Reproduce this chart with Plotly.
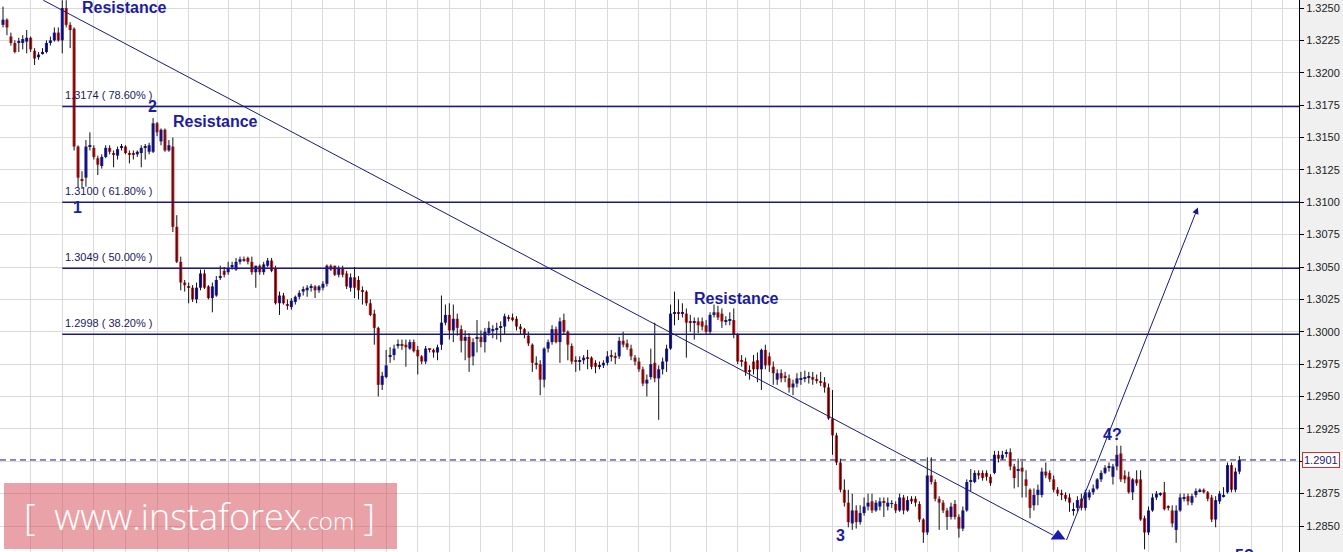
import plotly.graph_objects as go

# ---------------- data ----------------
opens = [1.3237,1.3241,1.3228,1.3223,1.3223,1.3223,1.3224,1.3227,1.3217,1.3212,
 1.3215,1.3216,1.3223,1.3225,1.3231,1.3225,1.3250,1.3237,1.3234,1.3143,
 1.3118,1.3119,1.3143,1.3142,1.3134,1.3128,1.3135,1.3142,1.3138,1.3136,
 1.3142,1.3143,1.3138,1.3138,1.3137,1.3138,1.3142,1.3139,1.3139,1.3161,
 1.3147,1.3156,1.3140,1.3143,1.3081,1.3054,1.3038,1.3035,1.3034,1.3025,
 1.3034,1.3045,1.3035,1.3026,1.3028,1.3042,1.3047,1.3046,1.3050,1.3048,
 1.3054,1.3056,1.3057,1.3054,1.3046,1.3051,1.3046,1.3051,1.3055,1.3049,
 1.3022,1.3028,1.3021,1.3019,1.3023,1.3027,1.3031,1.3032,1.3034,1.3035,
 1.3032,1.3034,1.3037,1.3051,1.3051,1.3044,1.3049,1.3045,1.3034,1.3042,
 1.3040,1.3032,1.3031,1.3022,1.3014,1.3003,1.2959,1.2965,1.2981,1.2982,
 1.2989,1.2990,1.2990,1.2987,1.2992,1.2986,1.2981,1.2977,1.2987,1.2986,
 1.2984,1.2990,1.3007,1.3013,1.3001,1.3010,1.3002,1.2993,1.2996,1.2981,
 1.2995,1.2996,1.2992,1.2999,1.3001,1.3002,1.3003,1.3004,1.3011,1.3011,
 1.3010,1.3004,1.3002,1.2997,1.2990,1.2976,1.2975,1.2963,1.2987,1.2992,
 1.3002,1.2992,1.3009,1.3000,1.2989,1.2978,1.2977,1.2978,1.2980,1.2980,
 1.2976,1.2973,1.2974,1.2976,1.2982,1.2981,1.2981,1.2993,1.2991,1.2987,
 1.2980,1.2977,1.2971,1.2960,1.2965,1.2976,1.2964,1.2971,1.2977,1.2987,
 1.3014,1.3015,1.3014,1.3014,1.3008,1.3007,1.3008,1.3008,1.3005,1.3000,
 1.3013,1.3015,1.3014,1.3008,1.3009,1.3009,1.2998,1.2978,1.2977,1.2970,
 1.2977,1.2978,1.2971,1.2986,1.2981,1.2973,1.2963,1.2968,1.2966,1.2964,
 1.2957,1.2960,1.2963,1.2964,1.2965,1.2965,1.2963,1.2962,1.2961,1.2957,
 1.2933,1.2920,1.2899,1.2878,1.2868,1.2852,1.2862,1.2853,1.2860,1.2865,
 1.2869,1.2862,1.2865,1.2869,1.2865,1.2867,1.2867,1.2862,1.2872,1.2862,
 1.2871,1.2871,1.2867,1.2855,1.2845,1.2889,1.2884,1.2871,1.2868,1.2862,
 1.2857,1.2867,1.2857,1.2848,1.2862,1.2884,1.2884,1.2891,1.2891,1.2891,
 1.2888,1.2891,1.2905,1.2902,1.2906,1.2907,1.2896,1.2893,1.2895,1.2886,
 1.2878,1.2866,1.2874,1.2874,1.2892,1.2891,1.2886,1.2878,1.2875,1.2874,
 1.2872,1.2862,1.2864,1.2871,1.2864,1.2872,1.2876,1.2879,1.2886,1.2891,
 1.2895,1.2888,1.2896,1.2906,1.2889,1.2888,1.2876,1.2886,1.2886,1.2856,
 1.2845,1.2862,1.2872,1.2874,1.2876,1.2865,1.2862,1.2847,1.2862,1.2871,
 1.2873,1.2868,1.2874,1.2877,1.2878,1.2876,1.2872,1.2855,1.2869,1.2873,
 1.2876,1.2897,1.2878,1.2892]

highs = [1.3251,1.3242,1.3231,1.3225,1.3227,1.3229,1.3233,1.3228,1.3219,1.3216,
 1.3219,1.3225,1.3228,1.3235,1.3235,1.3256,1.3256,1.3239,1.3235,1.3144,
 1.3124,1.3148,1.3154,1.3144,1.3136,1.3137,1.3144,1.3144,1.3140,1.3143,
 1.3145,1.3144,1.3140,1.3140,1.3140,1.3144,1.3145,1.3146,1.3165,1.3162,
 1.3157,1.3157,1.3148,1.3150,1.3090,1.3058,1.3040,1.3038,1.3036,1.3038,
 1.3048,1.3048,1.3036,1.3038,1.3043,1.3051,1.3050,1.3054,1.3054,1.3057,
 1.3058,1.3058,1.3058,1.3058,1.3051,1.3052,1.3054,1.3057,1.3057,1.3051,
 1.3031,1.3030,1.3025,1.3026,1.3028,1.3032,1.3035,1.3036,1.3037,1.3036,
 1.3036,1.3039,1.3052,1.3052,1.3051,1.3051,1.3051,1.3047,1.3045,1.3050,
 1.3043,1.3035,1.3032,1.3025,1.3017,1.3004,1.2969,1.2986,1.2988,1.2990,
 1.2994,1.2994,1.2994,1.2994,1.2994,1.2989,1.2982,1.2989,1.2987,1.2987,
 1.2990,1.3028,1.3021,1.3022,1.3021,1.3014,1.3005,1.3001,1.2999,1.2995,
 1.3009,1.3001,1.3003,1.3008,1.3005,1.3007,1.3008,1.3014,1.3013,1.3014,
 1.3012,1.3006,1.3003,1.3000,1.2991,1.2981,1.2978,1.2988,1.2994,1.3005,
 1.3004,1.3011,1.3014,1.3001,1.2991,1.2981,1.2981,1.2982,1.2986,1.2981,
 1.2978,1.2977,1.2978,1.2985,1.2986,1.2984,1.2996,1.3000,1.2994,1.2990,
 1.2982,1.2980,1.2973,1.2967,1.2987,1.3007,1.2974,1.2980,1.2990,1.3021,
 1.3031,1.3025,1.3022,1.3018,1.3013,1.3011,1.3011,1.3011,1.3009,1.3015,
 1.3021,1.3020,1.3018,1.3012,1.3015,1.3018,1.2999,1.2982,1.2980,1.2974,
 1.2982,1.2984,1.2987,1.2990,1.2984,1.2977,1.2971,1.2971,1.2969,1.2967,
 1.2963,1.2968,1.2969,1.2970,1.2969,1.2969,1.2967,1.2969,1.2965,1.2960,
 1.2955,1.2922,1.2902,1.2886,1.2878,1.2875,1.2866,1.2866,1.2872,1.2875,
 1.2875,1.2870,1.2872,1.2872,1.2872,1.2870,1.2869,1.2875,1.2874,1.2873,
 1.2873,1.2873,1.2869,1.2856,1.2903,1.2903,1.2886,1.2873,1.2870,1.2864,
 1.2868,1.2870,1.2859,1.2865,1.2886,1.2894,1.2893,1.2893,1.2893,1.2893,
 1.2890,1.2908,1.2908,1.2908,1.2909,1.2910,1.2898,1.2902,1.2900,1.2893,
 1.2879,1.2879,1.2882,1.2895,1.2899,1.2893,1.2889,1.2880,1.2878,1.2876,
 1.2875,1.2868,1.2873,1.2875,1.2878,1.2878,1.2882,1.2887,1.2893,1.2897,
 1.2899,1.2898,1.2912,1.2912,1.2893,1.2892,1.2887,1.2893,1.2893,1.2858,
 1.2865,1.2875,1.2877,1.2876,1.2884,1.2866,1.2866,1.2866,1.2875,1.2875,
 1.2875,1.2875,1.2879,1.2879,1.2879,1.2877,1.2874,1.2873,1.2877,1.2880,
 1.2899,1.2899,1.2895,1.2904]

lows = [1.3235,1.3229,1.3221,1.3215,1.3216,1.3218,1.3215,1.3216,1.3206,1.3210,
 1.3214,1.3215,1.3221,1.3224,1.3224,1.3215,1.3235,1.3219,1.3140,1.3111,
 1.3111,1.3112,1.3140,1.3133,1.3121,1.3126,1.3134,1.3137,1.3127,1.3133,
 1.3140,1.3137,1.3130,1.3133,1.3135,1.3127,1.3133,1.3137,1.3138,1.3151,
 1.3144,1.3139,1.3139,1.3077,1.3053,1.3032,1.3031,1.3022,1.3023,1.3022,
 1.3032,1.3033,1.3025,1.3015,1.3027,1.3040,1.3042,1.3044,1.3048,1.3047,
 1.3052,1.3054,1.3052,1.3044,1.3034,1.3044,1.3044,1.3050,1.3046,1.3021,
 1.3013,1.3021,1.3017,1.3017,1.3021,1.3025,1.3028,1.3027,1.3031,1.3026,
 1.3030,1.3032,1.3035,1.3047,1.3043,1.3042,1.3042,1.3033,1.3031,1.3026,
 1.3025,1.3021,1.3020,1.3012,1.2990,1.2950,1.2955,1.2964,1.2976,1.2978,
 1.2987,1.2986,1.2973,1.2986,1.2984,1.2967,1.2975,1.2975,1.2984,1.2980,
 1.2978,1.2986,1.3005,1.2994,1.2992,1.2997,1.2984,1.2978,1.2969,1.2974,
 1.2984,1.2988,1.2984,1.2997,1.2995,1.2994,1.2992,1.2998,1.3008,1.3008,
 1.3001,1.2998,1.2995,1.2989,1.2969,1.2971,1.2951,1.2957,1.2984,1.2990,
 1.2991,1.2976,1.2998,1.2978,1.2975,1.2969,1.2970,1.2975,1.2971,1.2971,
 1.2968,1.2971,1.2972,1.2974,1.2977,1.2975,1.2979,1.2988,1.2986,1.2978,
 1.2974,1.2969,1.2958,1.2950,1.2963,1.2961,1.2932,1.2967,1.2969,1.2986,
 1.3005,1.3009,1.3011,1.2980,1.3000,1.2994,1.2999,1.3001,1.2998,1.2998,
 1.3011,1.3009,1.3003,1.3005,1.3005,1.2995,1.2975,1.2973,1.2966,1.2963,
 1.2967,1.2961,1.2955,1.2971,1.2969,1.2959,1.2959,1.2961,1.2961,1.2953,
 1.2951,1.2957,1.2959,1.2961,1.2960,1.2959,1.2960,1.2958,1.2953,1.2932,
 1.2905,1.2897,1.2876,1.2865,1.2849,1.2847,1.2848,1.2851,1.2858,1.2862,
 1.2860,1.2861,1.2862,1.2857,1.2862,1.2864,1.2860,1.2861,1.2859,1.2861,
 1.2867,1.2865,1.2853,1.2837,1.2843,1.2882,1.2869,1.2847,1.2860,1.2847,
 1.2855,1.2855,1.2841,1.2846,1.2861,1.2877,1.2883,1.2886,1.2885,1.2885,
 1.2881,1.2890,1.2899,1.2901,1.2903,1.2893,1.2879,1.2880,1.2872,1.2872,
 1.2856,1.2862,1.2866,1.2872,1.2887,1.2884,1.2876,1.2873,1.2870,1.2869,
 1.2861,1.2858,1.2861,1.2862,1.2862,1.2870,1.2874,1.2878,1.2884,1.2890,
 1.2892,1.2882,1.2893,1.2884,1.2883,1.2875,1.2870,1.2881,1.2854,1.2832,
 1.2843,1.2861,1.2870,1.2873,1.2862,1.2862,1.2849,1.2837,1.2861,1.2869,
 1.2866,1.2866,1.2872,1.2876,1.2875,1.2869,1.2853,1.2849,1.2867,1.2872,
 1.2875,1.2876,1.2876,1.2890]

closes = [1.3241,1.3235,1.3223,1.3216,1.3224,1.3226,1.3227,1.3218,1.3211,1.3214,
 1.3216,1.3223,1.3225,1.3231,1.3225,1.3250,1.3237,1.3233,1.3143,1.3119,
 1.3117,1.3143,1.3144,1.3135,1.3129,1.3135,1.3142,1.3139,1.3137,1.3141,
 1.3143,1.3138,1.3137,1.3137,1.3139,1.3142,1.3143,1.3144,1.3161,1.3154,
 1.3156,1.3140,1.3144,1.3081,1.3054,1.3038,1.3036,1.3034,1.3025,1.3034,
 1.3045,1.3034,1.3026,1.3035,1.3040,1.3043,1.3044,1.3049,1.3051,1.3054,
 1.3056,1.3055,1.3054,1.3046,1.3051,1.3046,1.3052,1.3055,1.3047,1.3022,
 1.3028,1.3022,1.3020,1.3024,1.3027,1.3030,1.3033,1.3034,1.3035,1.3032,
 1.3035,1.3037,1.3051,1.3048,1.3044,1.3049,1.3044,1.3035,1.3042,1.3034,
 1.3032,1.3031,1.3022,1.3013,1.3003,1.2959,1.2966,1.2974,1.2982,1.2987,
 1.2990,1.2989,1.2988,1.2992,1.2985,1.2981,1.2977,1.2987,1.2986,1.2984,
 1.2988,1.3007,1.3013,1.3001,1.3010,1.3003,1.2993,1.2996,1.2980,1.2992,
 1.2996,1.2992,1.3000,1.3003,1.3002,1.3003,1.3004,1.3012,1.3010,1.3009,
 1.3004,1.3002,1.2998,1.2991,1.2976,1.2975,1.2963,1.2987,1.2992,1.3002,
 1.2992,1.3008,1.3000,1.2990,1.2977,1.2977,1.2978,1.2980,1.2979,1.2973,
 1.2973,1.2974,1.2976,1.2981,1.2981,1.2980,1.2993,1.2990,1.2988,1.2981,
 1.2977,1.2971,1.2960,1.2963,1.2975,1.2964,1.2971,1.2977,1.2987,1.3014,
 1.3015,1.3014,1.3015,1.3007,1.3007,1.3008,1.3005,1.3004,1.3000,1.3013,
 1.3015,1.3011,1.3008,1.3009,1.3009,1.2998,1.2977,1.2977,1.2969,1.2969,
 1.2971,1.2971,1.2986,1.2974,1.2974,1.2968,1.2968,1.2964,1.2965,1.2957,
 1.2960,1.2964,1.2964,1.2965,1.2965,1.2963,1.2962,1.2961,1.2957,1.2933,
 1.2920,1.2899,1.2878,1.2868,1.2853,1.2862,1.2853,1.2860,1.2865,1.2868,
 1.2862,1.2868,1.2869,1.2868,1.2868,1.2867,1.2862,1.2872,1.2862,1.2870,
 1.2869,1.2868,1.2855,1.2845,1.2889,1.2884,1.2871,1.2868,1.2862,1.2857,
 1.2865,1.2857,1.2848,1.2862,1.2884,1.2885,1.2891,1.2889,1.2887,1.2888,
 1.2883,1.2905,1.2902,1.2905,1.2907,1.2896,1.2887,1.2893,1.2892,1.2881,
 1.2864,1.2874,1.2878,1.2892,1.2889,1.2886,1.2878,1.2875,1.2874,1.2871,
 1.2868,1.2863,1.2870,1.2864,1.2876,1.2876,1.2879,1.2886,1.2891,1.2895,
 1.2896,1.2896,1.2905,1.2886,1.2886,1.2876,1.2886,1.2883,1.2855,1.2845,
 1.2862,1.2872,1.2875,1.2875,1.2863,1.2864,1.2852,1.2862,1.2872,1.2872,
 1.2869,1.2873,1.2877,1.2878,1.2876,1.2871,1.2855,1.2870,1.2875,1.2874,
 1.2897,1.2878,1.2892,1.2901]

y_ticks = [1.2850, 1.2875, 1.2900, 1.2925, 1.2950, 1.2975, 1.3000, 1.3025, 1.3050,
           1.3075, 1.3100, 1.3125, 1.3150, 1.3175, 1.3200, 1.3225, 1.3250]
y_tick_labels = ["%.4f" % v for v in y_ticks]

fib_levels = [1.3174, 1.3100, 1.3049, 1.2998]
fib_labels = ["1.3174 ( 78.60% )", "1.3100 ( 61.80% )", "1.3049 ( 50.00% )", "1.2998 ( 38.20% )"]
fib_anchor_bar = 15

last_price = 1.2901
last_price_label = "1.2901"

# trend line (bar index, price) and projection arrow
trend_x = [10.2, 265.8]
trend_y = [1.3256, 1.2843]
proj_from = (269.1, 1.2838)
proj_to = (302.5, 1.3096)
marker_point = (267.1, 1.2842)

wave_texts = ["Resistance", "2", "Resistance", "1", "Resistance", "3", "4?"]
wave_x = [30.8, 37.9, 53.7, 18.9, 185.6, 211.9, 281.0]
wave_y = [1.32502, 1.3174, 1.3162, 1.3096, 1.3026, 1.2843, 1.2921]
wave5_text = "5?"
wave5_x = 314.2

# ---------------- layout constants ----------------
X_MIN, X_MAX = -0.76, 328.1
Y_MIN, Y_MAX = 1.282992, 1.325618
grid_x = [7, 15, 23, 31, 39, 47, 57, 65, 73, 81, 89, 97, 105, 113, 121, 129, 137, 145,
          153, 161, 169, 178, 186, 194, 202, 210, 218, 226, 234, 242, 250, 258, 266, 274,
          282, 290, 298, 308, 316, 324]

BLUE = "#1c1cc6"
RED = "#d61e1e"
NAVY = "#1a1a7e"
TEXT_BLUE = "#1c1c9e"
GRID = "#dadada"

n = len(closes)
idx = list(range(n))
body_base = [min(o, c) for o, c in zip(opens, closes)]
body_h = [max(abs(c - o), 0.00007) for o, c in zip(opens, closes)]
colors = [BLUE if c >= o else RED for o, c in zip(opens, closes)]

wick_x, wick_y = [], []
for i in idx:
    wick_x += [i, i, None]
    wick_y += [lows[i], highs[i], None]

fig = go.Figure()

fig.add_trace(go.Scatter(x=wick_x, y=wick_y, mode="lines",
                         line=dict(color="#111111", width=1),
                         hoverinfo="skip", showlegend=False))
fig.add_trace(go.Bar(x=idx, y=body_h, base=body_base, width=0.78,
                     marker=dict(color=colors, line=dict(width=0)),
                     hoverinfo="skip", showlegend=False))

# trend line
fig.add_trace(go.Scatter(x=trend_x, y=trend_y, mode="lines",
                         line=dict(color=NAVY, width=1), hoverinfo="skip", showlegend=False))
# triangle marker at end of trend line
fig.add_trace(go.Scatter(x=[marker_point[0]], y=[marker_point[1]], mode="markers",
                         marker=dict(symbol="triangle-up", size=13, color="#1a1ab0"),
                         hoverinfo="skip", showlegend=False))

shapes = []
for lvl in fib_levels:
    shapes.append(dict(type="line", xref="x", yref="y", x0=fib_anchor_bar, x1=X_MAX,
                       y0=lvl, y1=lvl, line=dict(color=NAVY, width=1.5), layer="above"))
shapes.append(dict(type="line", xref="x", yref="y", x0=X_MIN, x1=X_MAX,
                   y0=last_price, y1=last_price,
                   line=dict(color=NAVY, width=1, dash="6px,4px"), layer="above"))
# watermark box
shapes.append(dict(type="rect", xref="paper", yref="paper",
                   x0=4 / 1299, x1=397 / 1299, y0=3 / 552, y1=69 / 552,
                   fillcolor="rgba(212,72,82,0.5)", line=dict(width=0), layer="above"))

annotations = []
for lvl, lab in zip(fib_levels, fib_labels):
    annotations.append(dict(x=fib_anchor_bar, y=lvl, xref="x", yref="y", text=lab,
                            showarrow=False, xanchor="left", yanchor="bottom",
                            xshift=1, yshift=3,
                            font=dict(family="Liberation Sans, Arial", size=11, color="#1a1a5e")))
for t, xx, yy in zip(wave_texts, wave_x, wave_y):
    annotations.append(dict(x=xx, y=yy, xref="x", yref="y", text=t, showarrow=False,
                            xanchor="center", yanchor="middle",
                            font=dict(family="Liberation Sans, Arial", size=16,
                                      color=TEXT_BLUE, weight="bold")))
annotations.append(dict(x=wave5_x, y=7 / 552, xref="x", yref="paper", text=wave5_text,
                        showarrow=False, xanchor="center", yanchor="top",
                        font=dict(family="Liberation Sans, Arial", size=16,
                                  color=TEXT_BLUE, weight="bold")))
# projection arrow
annotations.append(dict(x=proj_to[0], y=proj_to[1], ax=proj_from[0], ay=proj_from[1],
                        xref="x", yref="y", axref="x", ayref="y", text="",
                        showarrow=True, arrowhead=2, arrowsize=1.3, arrowwidth=1,
                        arrowcolor=NAVY, standoff=0, startstandoff=0))
# last price box
annotations.append(dict(x=1, y=last_price, xref="paper", yref="y", text=last_price_label,
                        showarrow=False, xanchor="left", yanchor="middle", xshift=3,
                        bgcolor="white", bordercolor="#c83232", borderwidth=1, borderpad=1,
                        font=dict(family="Liberation Sans, Arial", size=11, color=NAVY)))
# watermark text
annotations.append(dict(x=22 / 1299, y=36 / 552, xref="paper", yref="paper",
                        text="[&nbsp;&nbsp;www.instaforex<span style='font-size:24px'>.com</span>&nbsp;]",
                        showarrow=False, xanchor="left", yanchor="middle",
                        font=dict(family="Open Sans, Lato", size=36, color="white", weight=300)))

fig.update_layout(
    width=1343, height=552,
    margin=dict(l=0, r=44, t=0, b=0),
    paper_bgcolor="#f0f0f0", plot_bgcolor="white",
    showlegend=False, hovermode=False,
    shapes=shapes, annotations=annotations,
    xaxis=dict(range=[X_MIN, X_MAX], tickvals=grid_x, showticklabels=False, ticks="",
               showgrid=True, gridcolor=GRID, gridwidth=1, zeroline=False,
               showline=False, automargin=False, fixedrange=True),
    yaxis=dict(range=[Y_MIN, Y_MAX], side="right", tickvals=y_ticks, ticktext=y_tick_labels,
               showgrid=True, gridcolor=GRID, gridwidth=1, zeroline=False,
               ticks="outside", ticklen=4, tickcolor="#000000",
               showline=True, linecolor="#000000", linewidth=1,
               tickfont=dict(family="Liberation Sans, Arial", size=11, color="#222222"),
               automargin=False, fixedrange=True),
)

fig.write_html("out.html",
               config={"displayModeBar": False},
               post_script="document.body.style.margin='0';document.body.style.overflow='hidden';")
